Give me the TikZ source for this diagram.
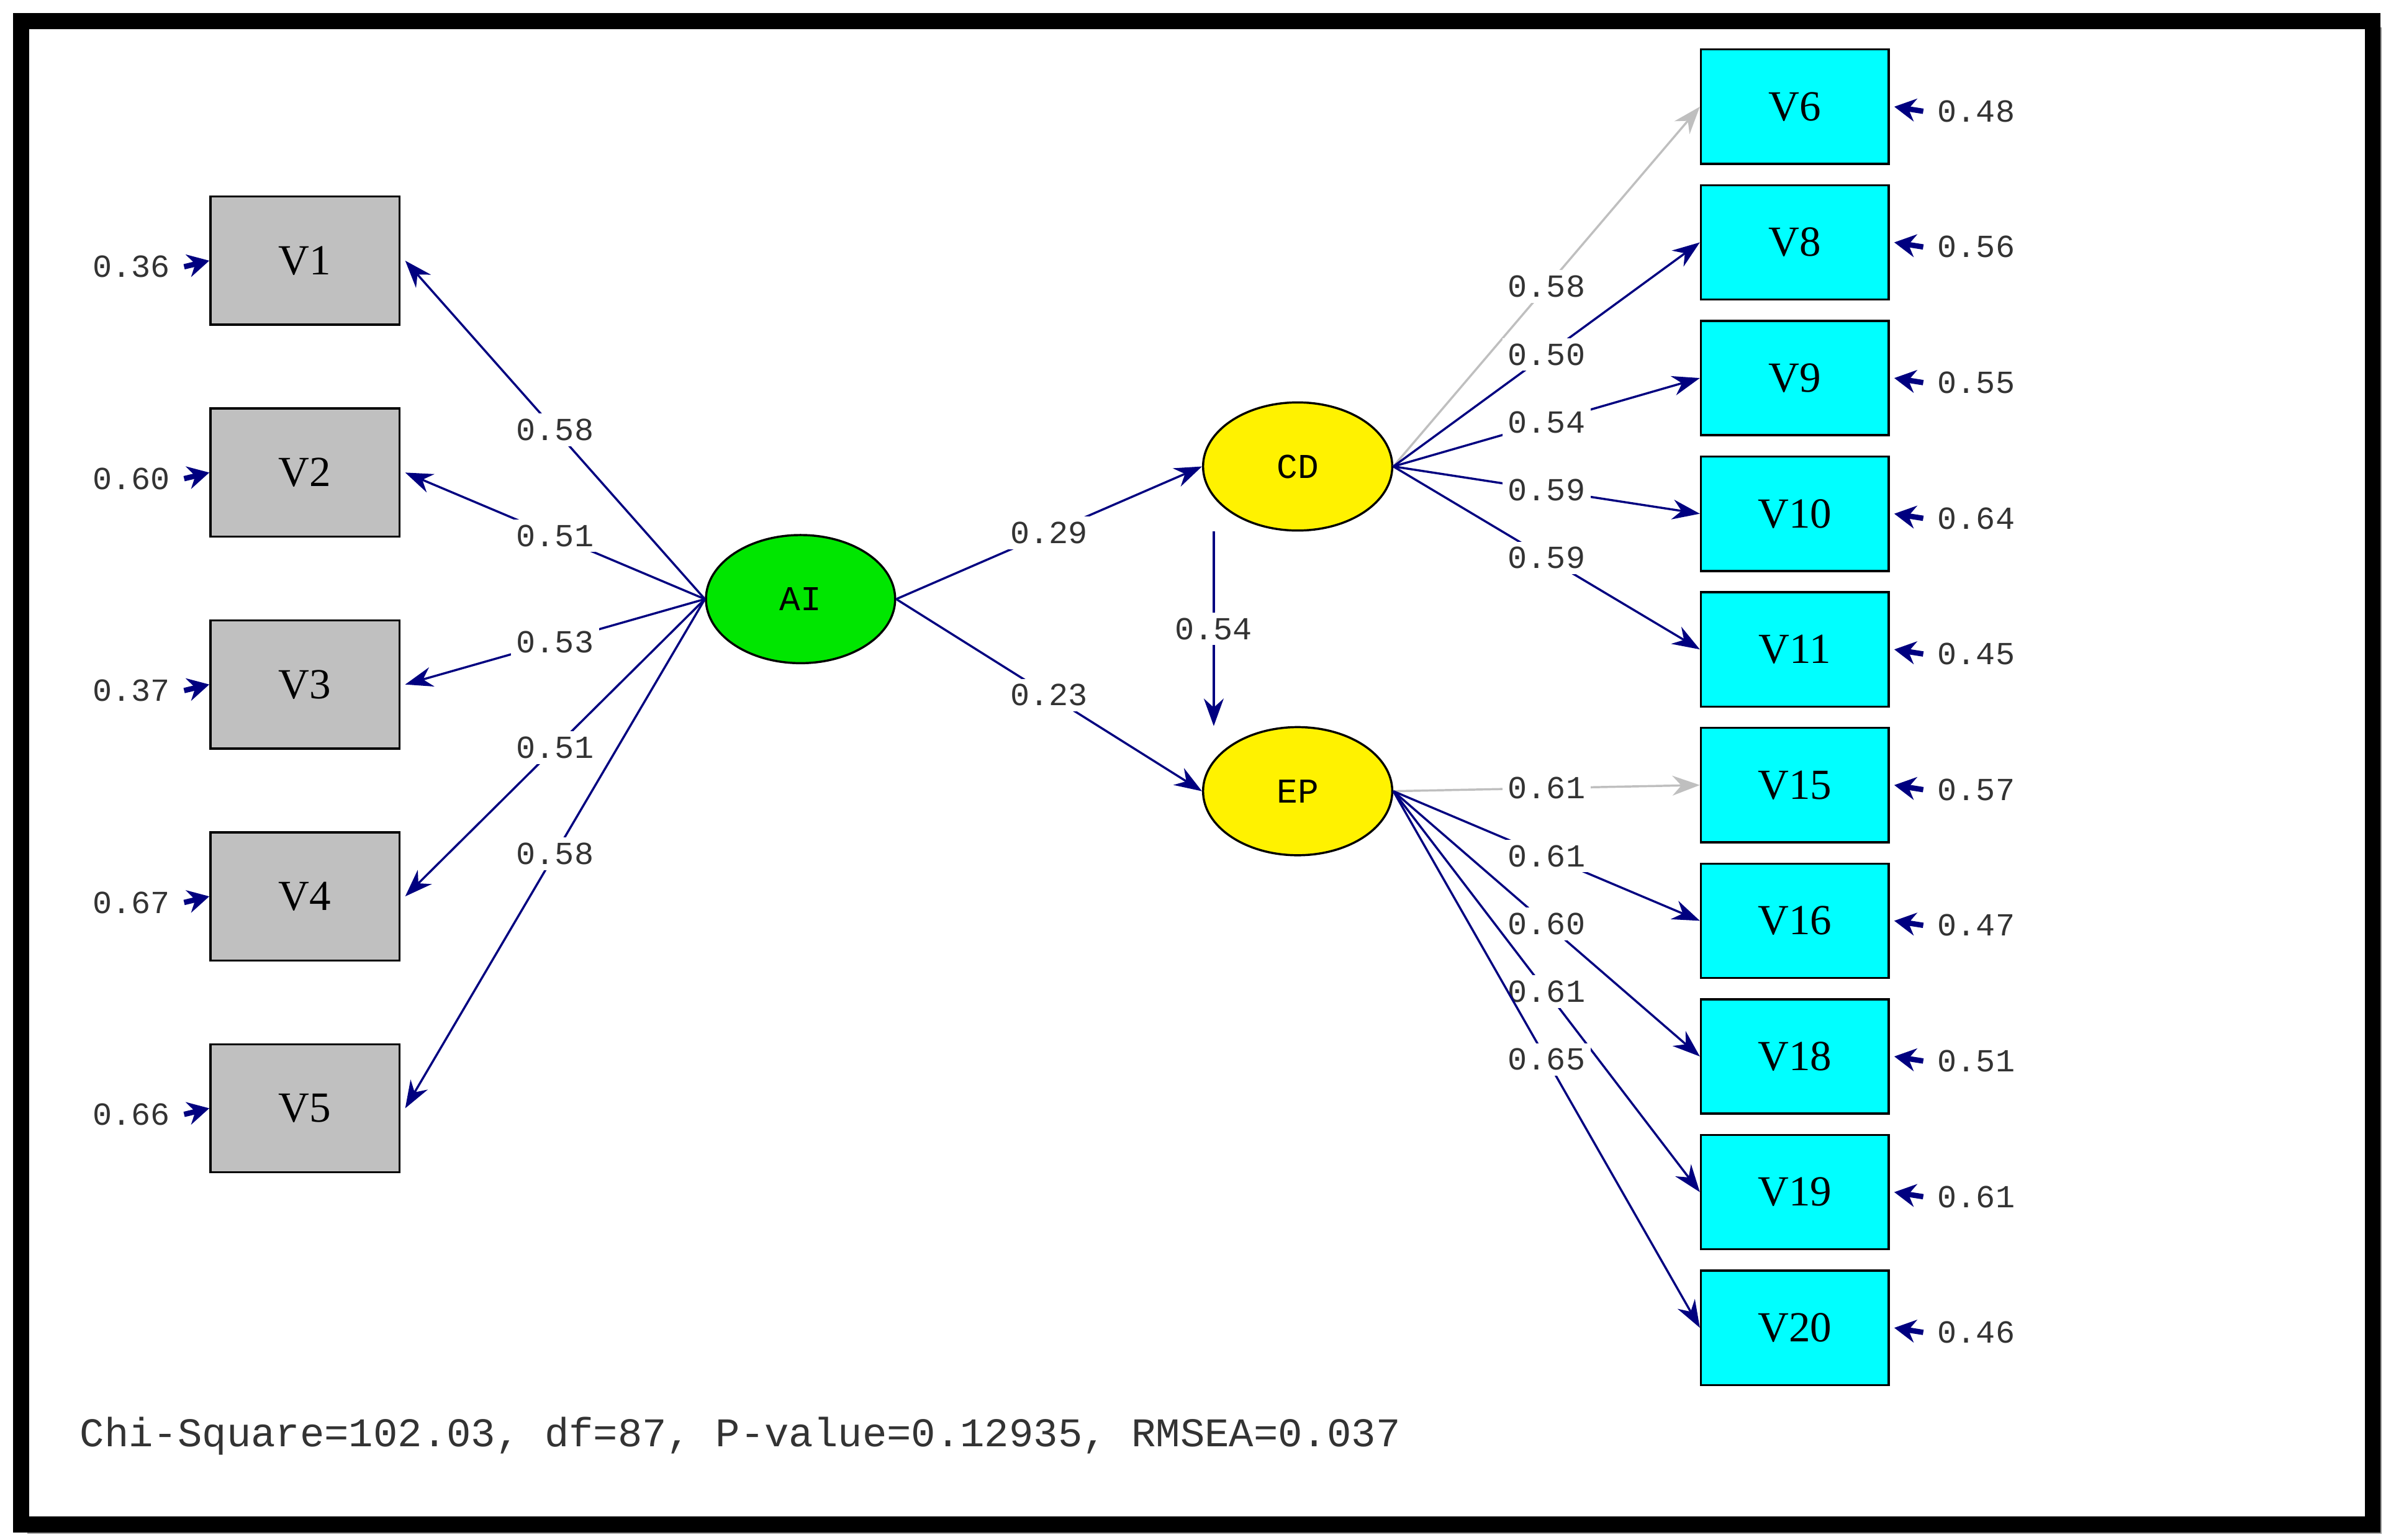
\documentclass[tikz,border=0pt]{standalone}
\usepackage{fontspec}
\setmainfont{Liberation Serif}
\newfontfamily\lismono{Liberation Mono}
\usetikzlibrary{arrows.meta,shapes.geometric}
\definecolor{pathnavy}{RGB}{0,0,128}
\definecolor{boxgray}{RGB}{192,192,192}
\definecolor{lvgreen}{RGB}{0,230,0}
\definecolor{boxcyan}{RGB}{0,255,255}
\tikzset{
  obs/.style={draw,minimum width=1.24cm,minimum height=0.84cm,font=\fontsize{8}{9}\selectfont},
  obsr/.style={draw,fill=boxcyan,minimum width=1.23cm,minimum height=0.75cm,font=\fontsize{8}{9}\selectfont},
  lat/.style={draw,ellipse,minimum width=1.24cm,minimum height=0.84cm,inner sep=0pt,font=\lismono\fontsize{6.5}{7}\selectfont},
  sempath/.style={pathnavy,-{Stealth[length=1.8mm,width=1.3mm]}},
  coef/.style={fill=white,inner sep=1pt,font=\lismono\fontsize{6}{7}\selectfont,text=black!80},
  err/.style={font=\lismono\fontsize{6}{7}\selectfont,text=black!80},
  errarr/.style={pathnavy,line width=1pt,-{Stealth[length=1.4mm,width=1.5mm]}}
}
\begin{document}
\begin{tikzpicture}[x=0.01cm,y=-0.01cm]
      \useasboundingbox (0,0) rectangle (1568,1010);
      \fill[black!40] (18,18) rectangle (1562,1006);
      \draw[line width=3pt,fill=white] (14,14) rectangle (1556,1000);

      % latent variables
      \node[lat,fill=lvgreen] (AI) at (525,393) {AI};
      \node[lat,fill=yellow] (CD) at (851,306) {CD};
      \node[lat,fill=yellow] (EP) at (851,519) {EP};

      % left indicators
      \foreach \n/\y/\e/\c in {1/171/0.36/0.58, 2/310/0.60/0.51, 3/449/0.37/0.53, 4/588/0.67/0.51, 5/727/0.66/0.58}
      {
          \node[obs,fill=boxgray] (V\n) at (200,\y) {V\n};
          \node[err] (e\n) at (86,\y+4) {\e};
          \draw[errarr] ([xshift=-0.03cm]e\n.east) -- (V\n.west);
          \draw[sempath] (AI.west) -- node[coef]{\c} ([xshift=0.03cm]V\n.east);
      }

      % right indicators
      \foreach \n/\y/\e/\c/\col in {6/70/0.48/0.58/black!25, 8/159/0.56/0.50/pathnavy, 9/248/0.55/0.54/pathnavy, 10/337/0.64/0.59/pathnavy, 11/426/0.45/0.59/pathnavy}
      {
          \node[obsr] (V\n) at (1177,\y) {V\n};
          \node[err] (e\n) at (1296,\y+3) {\e};
          \draw[errarr] ([xshift=0.03cm]e\n.west) -- ([xshift=0.03cm]V\n.east);
          \draw[sempath,\col] (CD.east) -- node[coef]{\c} (V\n.west);
      }
      \foreach \n/\y/\e/\c/\col in {15/515/0.57/0.61/black!25, 16/604/0.47/0.61/pathnavy, 18/693/0.51/0.60/pathnavy, 19/782/0.61/0.61/pathnavy, 20/871/0.46/0.65/pathnavy}
      {
          \node[obsr] (V\n) at (1177,\y) {V\n};
          \node[err] (e\n) at (1296,\y+3) {\e};
          \draw[errarr] ([xshift=0.03cm]e\n.west) -- ([xshift=0.03cm]V\n.east);
          \draw[sempath,\col] (EP.east) -- node[coef]{\c} (V\n.west);
      }

      % structural paths
      \draw[sempath] (AI.east) -- node[coef]{0.29} (CD.west);
      \draw[sempath] (AI.east) -- node[coef]{0.23} (EP.west);
      \draw[sempath] ([xshift=-0.55cm]CD.south) -- node[coef]{0.54} ([xshift=-0.55cm]EP.north);

      \node[anchor=west,font=\lismono\fontsize{7.6}{9}\selectfont,text=black!80] (fit) at (40,942) {Chi-Square=102.03, df=87, P-value=0.12935, RMSEA=0.037};
\end{tikzpicture}
\end{document}
